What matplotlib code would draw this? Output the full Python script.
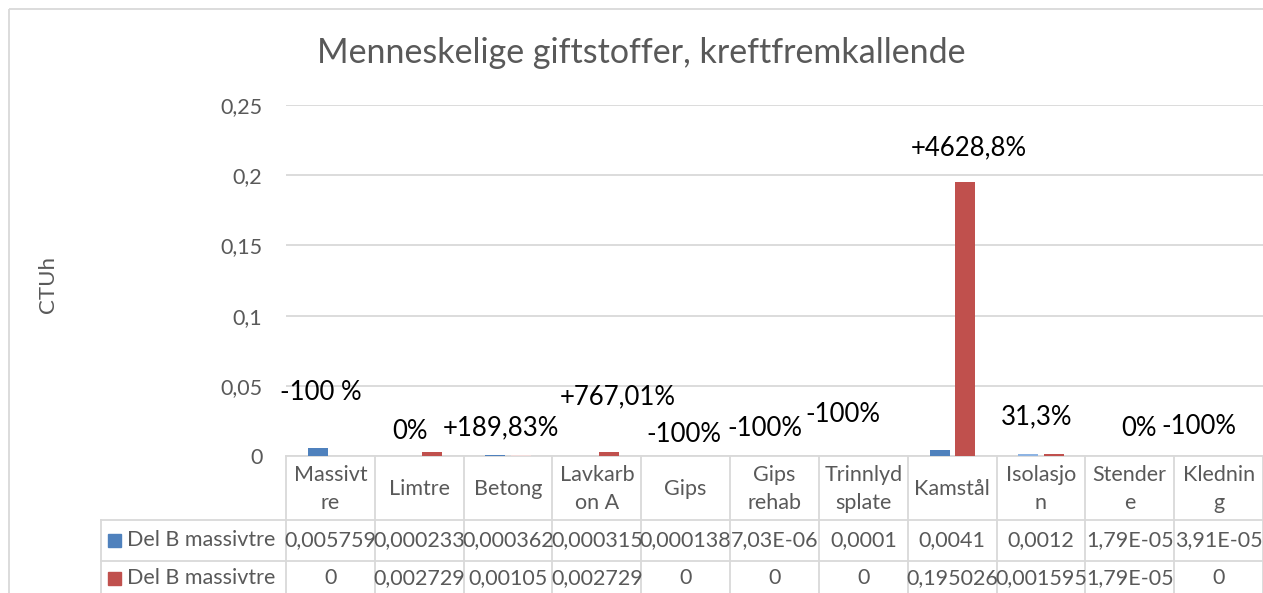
import matplotlib
matplotlib.use("Agg")
import matplotlib.pyplot as plt
from matplotlib.patches import Rectangle
import numpy as np

plt.rcParams['font.family'] = ['Lato', 'DejaVu Sans']

# data
categories = ["Massivtre", "Limtre", "Betong", "Lavkarbon A", "Gips", "Gips rehab",
              "Trinnlydsplate", "Kamstål", "Isolasjon", "Stendere", "Kledning"]
# same words, wrapped the way the data table wraps them
header_labels = ["Massivt\nre", "Limtre", "Betong", "Lavkarb\non A", "Gips", "Gips\nrehab",
                 "Trinnlyd\nsplate", "Kamstål", "Isolasjo\nn", "Stender\ne", "Klednin\ng"]
series_names = ["Del B massivtre", "Del B massivtre"]
del_b_1 = [0.005759, 0.000233, 0.000362, 0.000315, 0.000138, 7.03e-06,
           0.0001, 0.0041, 0.0012, 1.79e-05, 3.91e-05]
del_b_2 = [0, 0.002729, 0.00105, 0.002729, 0, 0, 0, 0.195026, 0.001595, 1.79e-05, 0]
change_labels = ["-100 %", "0%", "+189,83%", "+767,01%", "-100%", "-100%",
                 "-100%", "+4628,8%", "31,3%", "0%", "-100%"]

# where the free-floating text boxes sit (category units, CTUh)
label_pos = [(-0.11, 0.0449), (0.895, 0.0171), (1.92, 0.0199), (3.23, 0.042),
             (3.98, 0.015), (4.89, 0.0199), (5.77, 0.0299), (7.19, 0.2194),
             (7.95, 0.0278), (9.10, 0.0199), (9.78, 0.0207)]

blue = "#4F81BD"
red = "#C0504D"
colors_1 = [blue] * 11
colors_1[8] = "#8EB4E3"
colors_2 = [red] * 11
colors_2[2] = "#F2DCDB"
grey_txt = "#595959"
line_c = "#D9D9D9"


def excel_fmt(v):
    if v == 0:
        return "0"
    if abs(v) < 1e-4:
        return f"{v:.2E}".replace(".", ",")
    return f"{v:.6f}".rstrip("0").replace(".", ",")


W, H = 1263, 593
fig = plt.figure(figsize=(W / 100, H / 100), dpi=100)

# overlay for frame + data table, in pixel coordinates (y down)
tab = fig.add_axes([0, 0, 1, 1], zorder=0)
tab.set_xlim(0, W)
tab.set_ylim(H, 0)
tab.axis('off')

ax = fig.add_axes([286 / W, 1 - 456 / H, (W - 286) / W, (456 - 105) / H], zorder=1)
ax.patch.set_alpha(0)

x = np.arange(len(categories))
bw = 0.225
off = 0.142
ax.bar(x - off, del_b_1, bw, color=colors_1, zorder=3, antialiased=False)
ax.bar(x + off, del_b_2, bw, color=colors_2, zorder=3, antialiased=False)

ax.set_xlim(-0.5, len(categories) - 0.5)
ax.set_ylim(0, 0.25)
ax.set_yticks(np.arange(0, 0.2501, 0.05))
ax.set_yticklabels(["0", "0,05", "0,1", "0,15", "0,2", "0,25"])
ax.tick_params(axis='y', length=0, pad=17, labelsize=15.5, labelcolor=grey_txt)
ax.set_xticks([])
ax.grid(axis='y', color=line_c, linewidth=1.3, zorder=0)
for s in ["top", "right", "left"]:
    ax.spines[s].set_visible(False)
ax.spines["bottom"].set_color(line_c)
ax.spines["bottom"].set_linewidth(1.3)

for txt, (lx, ly) in zip(change_labels, label_pos):
    ax.text(lx, ly, txt, ha='center', va='center', fontsize=18.5, color='black', zorder=5)

ax.set_ylabel("CTUh", fontsize=16, color=grey_txt, labelpad=0)
ax.yaxis.set_label_coords(-228 / (W - 286), 0.49)

fig.text(641 / W, 1 - 53 / H, "Menneskelige giftstoffer, kreftfremkallende",
         ha='center', va='center', fontsize=24.5, color=grey_txt)

# chart frame
tab.add_patch(Rectangle((9, 9), W + 20, H + 20, fill=False, edgecolor=line_c, linewidth=1.3))

# data table
to_px = ax.transData + tab.transData.inverted()
edges = [to_px.transform((e, 0))[0] for e in np.arange(-0.5, len(categories), 1.0)]
y_axis, y_r1, y_r2, y_end = 456, 520, 561, H + 5
left = 101
lw = 1.3
for e in edges:
    tab.plot([e, e], [y_axis, y_end], color=line_c, lw=lw)
tab.plot([left, left], [y_r1, y_end], color=line_c, lw=lw)
for yy in (y_r1, y_r2):
    tab.plot([left, edges[-1]], [yy, yy], color=line_c, lw=lw)

centers = [(a + b) / 2 for a, b in zip(edges[:-1], edges[1:])]
for cx, lab in zip(centers, header_labels):
    tab.text(cx, (y_axis + y_r1) / 2 + 1, lab, ha='center', va='center',
             fontsize=15.5, color=grey_txt, linespacing=1.5)

rows = [(del_b_1, blue, (y_r1 + y_r2) / 2), (del_b_2, red, (y_r2 + 596) / 2)]
for (vals, c, yc), name in zip(rows, series_names):
    tab.add_patch(Rectangle((108, yc - 6.5), 13, 13, color=c))
    tab.text(127, yc, name, ha='left', va='center', fontsize=15.5, color=grey_txt)
    for cx, v in zip(centers, vals):
        tab.text(cx, yc, excel_fmt(v), ha='center', va='center', fontsize=15.5, color=grey_txt)

fig.savefig("out.png", dpi=100)
